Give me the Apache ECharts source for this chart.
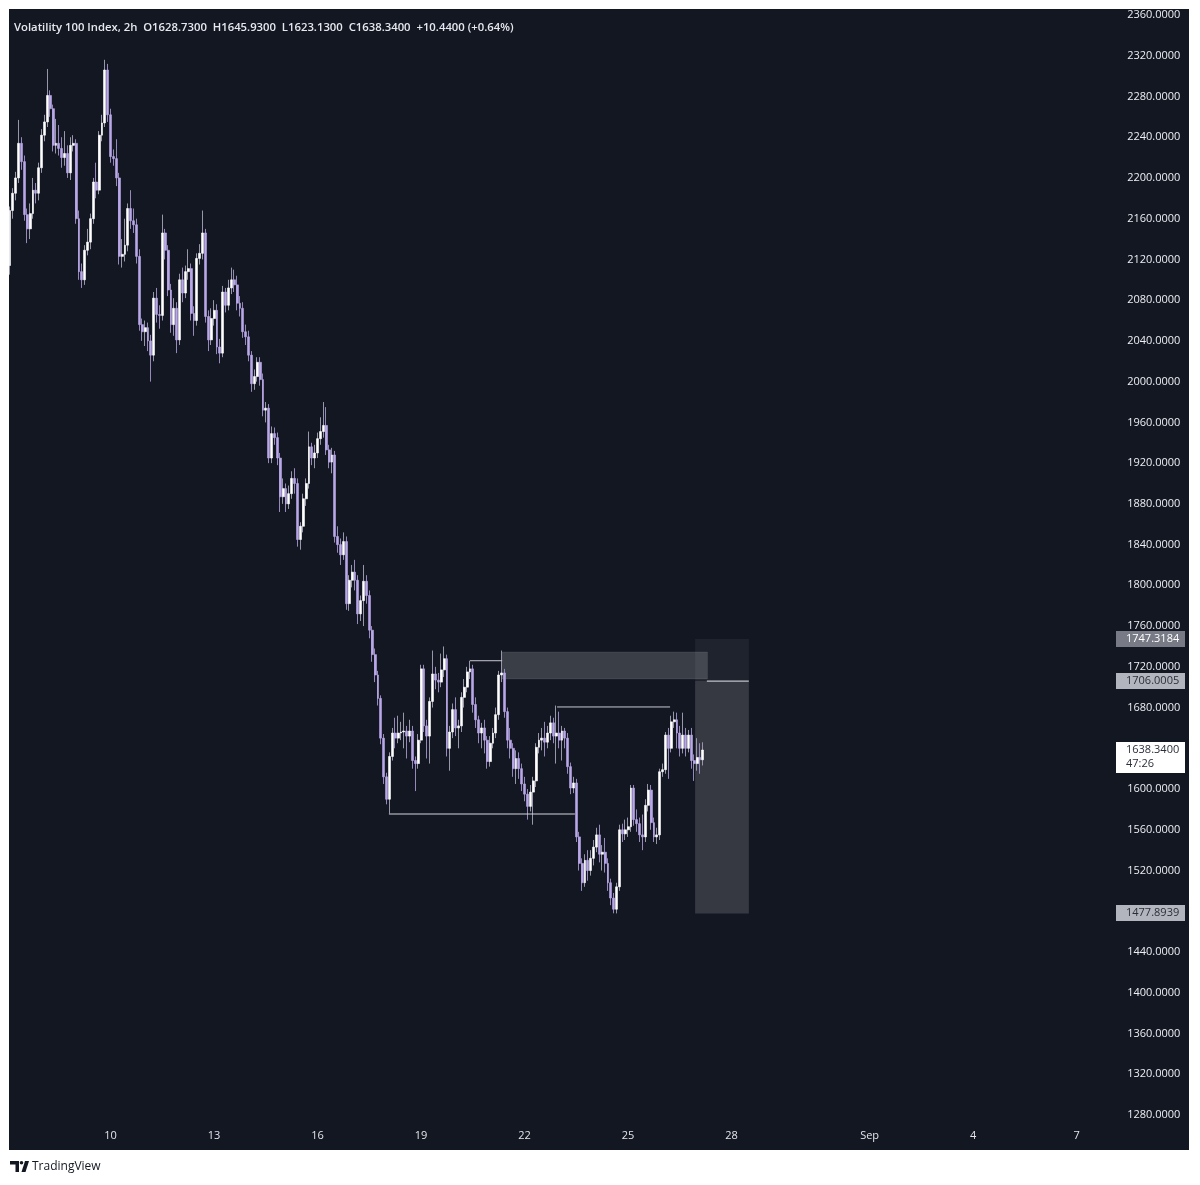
<!DOCTYPE html>
<html>
<head>
<meta charset="utf-8">
<script src="https://cdn.jsdelivr.net/npm/echarts@6/dist/echarts.min.js"></script>
<style>
html,body{margin:0;padding:0;background:#ffffff;}
#wrap{position:relative;width:1200px;height:1185px;}
#panel{position:absolute;left:9px;top:9px;width:1180px;height:1141px;background:#131722;}
#main{position:absolute;left:0;top:0;width:1200px;height:1185px;}
</style>
</head>
<body>
<div id="wrap"><div id="panel"></div><div id="main"></div></div>
<script>
// ---------- DATA ----------
const startTimeUTC = Date.UTC(2024, 7, 7, 2, 0); // first 2h slot
const slotHours = 2;
const slotCount = 377;

const tickDays = ['08-10','08-13','08-16','08-19','08-22','08-25','08-28','09-01','09-04','09-07'];
const tickLabels = ['10','13','16','19','22','25','28','Sep','4','7'];

const priceTicks = [1280,1320,1360,1400,1440,1480,1520,1560,1600,1640,1680,1720,1760,1800,1840,1880,1920,1960,2000,2040,2080,2120,2160,2200,2240,2280,2320,2360];

const opens = [
2114,2168,2185,2200,2234,2216,2164,2150,2165,2188,2185,2210,2242,2255,2281,2268,2232,2234,2229,2220,2224,2205,2232,2234,2160,2108,2100,2129,2137,2160,2196,2188,2242,2254,2306,2262,2221,2219,2200,2123,2125,2134,2170,2158,2154,2123,2056,2049,
2053,2040,2026,2082,2066,2065,2146,2129,2090,2056,2072,2041,2100,2087,2108,2111,2067,2060,2121,2126,2146,2064,2041,2062,2070,2034,2028,2088,2075,2092,2100,2095,2077,2072,2049,2044,2026,1998,2005,2019,2002,1972,1974,1925,1949,1945,1925,1887,1895,1880,1890,1905,
1900,1845,1858,1885,1900,1936,1925,1930,1944,1951,1957,1933,1921,1928,1848,1840,1830,1843,1782,1805,1813,1805,1772,1785,1804,1790,1756,1732,1712,1689,1650,1612,1590,1632,1655,1650,1655,1656,1657,1652,1657,1628,1625,1648,
1718,1662,1652,1686,1713,1707,1705,1717,1728,1640,1656,1678,1660,1662,1690,1700,1715,1718,1683,1668,1655,1660,1648,1627,1645,1655,1673,1712,1714,1676,1648,1640,1620,1630,1620,1605,1595,1583,1597,1608,1641,1648,1650,1646,1655,1665,1652,1655,1648,1657,1650,
1622,1601,1606,1553,1527,1508,1530,1520,1532,1543,1555,1536,1538,1527,1508,1493,1482,1504,1560,1556,1560,1563,1601,1570,1566,1555,1553,1584,1599,1567,1553,1555,1617,1619,1653,1640,1666,1668,1655,1640,1653,1640,1653,1628,1625,1631,1628.73
];
const closes = [
2168,2185,2200,2234,2216,2164,2150,2165,2188,2185,2210,2242,2255,2281,2268,2232,2234,2229,2220,2224,2205,2232,2234,2160,2108,2100,2129,2137,2160,2196,2188,2242,2254,2306,2262,2221,2219,2200,2123,2125,2134,2170,2158,2154,2123,2056,2049,2053,
2040,2026,2082,2066,2065,2146,2129,2090,2056,2072,2041,2100,2087,2108,2111,2067,2060,2121,2126,2146,2064,2041,2062,2070,2034,2028,2088,2075,2092,2100,2095,2077,2072,2049,2044,2026,1998,2005,2019,2002,1972,1974,1925,1949,1945,1925,1887,1895,1880,1890,1905,1900,
1845,1858,1885,1900,1936,1925,1930,1944,1951,1957,1933,1921,1928,1848,1840,1830,1843,1782,1805,1813,1805,1772,1785,1804,1790,1756,1732,1712,1689,1650,1612,1590,1632,1655,1650,1655,1656,1657,1652,1657,1628,1625,1648,1718,
1662,1652,1686,1713,1707,1705,1717,1728,1640,1656,1678,1660,1662,1690,1700,1715,1718,1683,1668,1655,1660,1648,1627,1645,1655,1673,1712,1714,1676,1648,1640,1620,1630,1620,1605,1595,1583,1597,1608,1641,1648,1650,1646,1655,1665,1652,1655,1648,1657,1650,1622,
1601,1606,1553,1527,1508,1530,1520,1532,1543,1555,1536,1538,1527,1508,1493,1482,1504,1560,1556,1560,1563,1601,1570,1566,1555,1553,1584,1599,1567,1553,1555,1617,1619,1653,1640,1666,1668,1655,1640,1653,1640,1653,1628,1625,1631,1628.73,1638.34
];
const lows = [
2105,2160,2178,2195,2208,2158,2136,2140,2160,2175,2178,2205,2236,2250,2260,2226,2224,2222,2210,2212,2200,2198,2226,2155,2100,2092,2095,2124,2130,2155,2180,2184,2236,2250,2255,2215,2212,2192,2115,2112,2118,2128,2150,2146,2116,2050,2040,2035,
2030,2000,2020,2058,2052,2060,2120,2084,2048,2045,2028,2036,2078,2082,2100,2060,2045,2055,2115,2120,2058,2030,2036,2055,2027,2018,2024,2068,2070,2086,2088,2070,2064,2043,2036,2020,1990,1992,2000,1996,1966,1960,1920,1920,1938,1918,1872,1880,1872,1875,1885,1890,
1838,1835,1852,1878,1895,1918,1915,1925,1938,1945,1928,1915,1910,1842,1832,1820,1825,1776,1775,1798,1795,1762,1765,1760,1782,1748,1725,1705,1682,1644,1605,1585,1576,1628,1640,1645,1648,1640,1630,1646,1620,1598,1620,1645,
1656,1630,1625,1680,1698,1695,1700,1710,1632,1618,1650,1652,1640,1656,1680,1695,1708,1675,1660,1645,1640,1635,1620,1622,1640,1650,1668,1705,1670,1640,1630,1612,1605,1610,1598,1588,1570,1578,1565,1602,1635,1638,1632,1640,1648,1645,1625,1640,1628,1640,1615,
1595,1596,1548,1520,1500,1504,1510,1515,1525,1538,1528,1520,1518,1500,1486,1478,1477.89,1500,1548,1550,1553,1558,1564,1558,1548,1540,1548,1578,1560,1548,1546,1550,1612,1615,1610,1636,1660,1640,1632,1635,1632,1636,1620,1608,1618,1615,1623.13
];
const highs = [
2172,2190,2206,2257,2240,2222,2170,2175,2200,2195,2215,2248,2262,2307,2286,2272,2258,2252,2240,2246,2232,2240,2242,2238,2168,2116,2134,2150,2165,2200,2215,2246,2262,2316,2312,2268,2228,2238,2205,2140,2160,2175,2188,2170,2160,2130,2062,2060,
2058,2046,2088,2092,2075,2164,2150,2134,2096,2082,2078,2106,2112,2114,2130,2116,2074,2126,2135,2168,2150,2070,2072,2080,2076,2042,2094,2092,2100,2112,2110,2104,2084,2078,2056,2050,2030,2012,2024,2024,2008,1980,1978,1956,1955,1950,1930,1905,1900,1898,1912,1915,
1905,1862,1890,1905,1951,1940,1938,1950,1965,1980,1975,1938,1935,1932,1858,1846,1852,1848,1810,1820,1825,1810,1790,1820,1810,1795,1760,1738,1716,1692,1654,1616,1636,1660,1670,1672,1666,1675,1662,1668,1662,1632,1654,1722,
1722,1668,1690,1736,1720,1714,1733,1740,1732,1662,1684,1690,1668,1695,1708,1720,1726,1722,1690,1672,1665,1668,1652,1652,1660,1680,1716,1736,1718,1680,1660,1645,1638,1636,1625,1612,1600,1604,1612,1645,1655,1660,1666,1662,1672,1670,1682,1676,1662,1660,1655,
1626,1612,1610,1558,1532,1536,1540,1540,1550,1562,1565,1545,1552,1532,1512,1498,1508,1565,1566,1570,1572,1604,1604,1580,1572,1575,1590,1605,1604,1572,1562,1620,1625,1656,1660,1672,1676,1675,1662,1675,1660,1658,1660,1634,1650,1645,1645.93
];

// drawing annotations (slot index positions, prices)
const supportLine = [[131.8, 1575.5], [196.5, 1575.5]];
const highLineA   = [[160, 1726], [171.2, 1726]];
const highLineB   = [[190.3, 1680.6], [229.6, 1680.6]];
const entryLine   = [[242.4, 1706.0005], [257, 1706.0005]];
const zoneBox     = [[171.2, 1734.6], [242.6, 1708.1]];
const rangeTop    = [[238.3, 1747.3184], [257, 1706.0005]];
const rangeBottom = [[238.3, 1706.0005], [257, 1477.8939]];

const titleText = 'Volatility 100 Index, 2h  O1628.7300  H1645.9300  L1623.1300  C1638.3400  +10.4400 (+0.64%)';
const lastPrice = 1638.34;
const countdown = '47:26';
const axisMarks = [
  {value: 1747.3184, bg: '#787b86', fg: '#ffffff'},
  {value: 1706.0005, bg: '#b2b5be', fg: '#2a2e39'},
  {value: 1477.8939, bg: '#b2b5be', fg: '#2a2e39'}
];

// ---------- BUILD ----------
const pad = n => (n < 10 ? '0' : '') + n;
const categories = [];
for (let k = 0; k < slotCount; k++) {
  const d = new Date(startTimeUTC + k * slotHours * 3600000);
  categories.push(d.getUTCFullYear() + '-' + pad(d.getUTCMonth() + 1) + '-' + pad(d.getUTCDate()) + ' ' + pad(d.getUTCHours()) + ':00');
}
const fullData = opens.map((o, i) => [o, closes[i], lows[i], highs[i]]);
const bodyData = opens.map((o, i) => [o, closes[i], Math.min(o, closes[i]), Math.max(o, closes[i])]);

const yMax = 2364.9, yMin = 1273.1;
const FONT = 'Open Sans';
const chart = echarts.init(document.getElementById('main'), null, {renderer: 'canvas'});

const lineSeries = (data, color) => ({
  type: 'line', xAxisIndex: 1, yAxisIndex: 0, data: data, showSymbol: false, symbol: 'none',
  lineStyle: {color: color, width: 1}, z: 5, silent: true, animation: false
});

chart.setOption({
  animation: false,
  backgroundColor: 'transparent',
  title: {
    text: titleText, left: 9, top: 17,
    textStyle: {color: '#e6e8ee', fontSize: 11.3, fontWeight: 600, fontFamily: FONT}
  },
  grid: {left: 8.56, right: 107.6, top: 10, bottom: 63, containLabel: false},
  xAxis: [{
    type: 'category', data: categories, boundaryGap: true,
    axisLine: {show: false}, axisTick: {show: false}, splitLine: {show: false},
    axisLabel: {
      color: '#e3e5ea', fontSize: 11, fontFamily: FONT, margin: 8,
      interval: (idx, val) => val.endsWith(' 00:00') && tickDays.indexOf(val.slice(5, 10)) >= 0,
      formatter: val => { const j = tickDays.indexOf(val.slice(5, 10)); return j >= 0 ? tickLabels[j] : ''; }
    }
  }, {
    type: 'value', min: -0.5, max: slotCount - 0.5, show: false
  }],
  yAxis: [{
    type: 'value', position: 'right', min: yMin, max: yMax, scale: true,
    axisLine: {show: false}, axisTick: {show: false}, splitLine: {show: false},
    axisLabel: {
      customValues: priceTicks, color: '#eceef2', fontSize: 11, fontFamily: FONT,
      align: 'right', margin: 88, formatter: v => Number(v).toFixed(4)
    }
  }],
  series: [
    {
      type: 'line', xAxisIndex: 1, yAxisIndex: 0, data: [], silent: true, z: 1,
      markArea: {
        silent: true,
        data: [
          [{xAxis: rangeTop[0][0], yAxis: rangeTop[0][1], itemStyle: {color: 'rgba(255,255,255,0.055)'}}, {xAxis: rangeTop[1][0], yAxis: rangeTop[1][1]}],
          [{xAxis: rangeBottom[0][0], yAxis: rangeBottom[0][1], itemStyle: {color: 'rgba(255,255,255,0.15)'}}, {xAxis: rangeBottom[1][0], yAxis: rangeBottom[1][1]}]
        ]
      }
    },
    {
      type: 'candlestick', name: 'wick', data: fullData, barWidth: 1, z: 2,
      itemStyle: {color: '#9796aa', color0: '#9488bd', borderColor: '#9796aa', borderColor0: '#9488bd', borderWidth: 1}
    },
    {
      type: 'candlestick', name: 'body', data: bodyData, barWidth: 2.4, z: 3,
      itemStyle: {color: '#ffffff', color0: '#b9a7e8', borderColor: '#ffffff', borderColor0: '#b9a7e8', borderWidth: 0.6}
    },
    {
      type: 'line', xAxisIndex: 1, yAxisIndex: 0, data: [], silent: true, z: 4,
      markArea: {
        silent: true,
        data: [
          [{xAxis: zoneBox[0][0], yAxis: zoneBox[0][1], itemStyle: {color: 'rgba(255,255,255,0.17)', borderColor: 'rgba(255,255,255,0.08)', borderWidth: 1}}, {xAxis: zoneBox[1][0], yAxis: zoneBox[1][1]}]
        ]
      }
    },
    lineSeries(supportLine, '#d6d6dc'),
    lineSeries(highLineA, '#c9c9d0'),
    lineSeries(highLineB, '#c9c9d0'),
    lineSeries(entryLine, '#e8e8ee')
  ]
});

// price-scale boxes and footer
const yPix = v => chart.convertToPixel({yAxisIndex: 0}, v);
const boxX = 1116, boxW = 69, textX = 1126;
const graphics = [];
axisMarks.forEach(m => {
  const y = yPix(m.value);
  graphics.push({type: 'rect', z: 100, shape: {x: boxX, y: Math.round(y) - 8, width: boxW, height: 16}, style: {fill: m.bg}});
  graphics.push({type: 'text', z: 101, style: {x: textX, y: Math.round(y), text: m.value.toFixed(4), fill: m.fg, font: '11px "' + FONT + '"', textVerticalAlign: 'middle'}});
});
const ly = Math.round(yPix(lastPrice));
graphics.push({type: 'rect', z: 100, shape: {x: boxX, y: ly - 8, width: boxW, height: 31}, style: {fill: '#ffffff'}});
graphics.push({type: 'text', z: 101, style: {x: textX, y: ly, text: lastPrice.toFixed(4), fill: '#2a2e39', font: '11px "' + FONT + '"', textVerticalAlign: 'middle'}});
graphics.push({type: 'text', z: 101, style: {x: textX, y: ly + 14, text: countdown, fill: '#2a2e39', font: '11px "' + FONT + '"', textVerticalAlign: 'middle'}});
// footer logo
graphics.push({type: 'polygon', z: 101, shape: {points: [[10,1161],[19,1161],[19,1172],[15.5,1172],[15.5,1164.5],[10,1164.5]]}, style: {fill: '#131722'}});
graphics.push({type: 'circle', z: 101, shape: {cx: 21.5, cy: 1162.8, r: 1.8}, style: {fill: '#131722'}});
graphics.push({type: 'polygon', z: 101, shape: {points: [[25,1161],[29,1161],[25.5,1172],[21.5,1172]]}, style: {fill: '#131722'}});
graphics.push({type: 'text', z: 101, style: {x: 32, y: 1167, text: 'TradingView', fill: '#131722', font: '12px "' + FONT + '"', textVerticalAlign: 'middle'}});
chart.setOption({graphic: graphics});
</script>
</body>
</html>
